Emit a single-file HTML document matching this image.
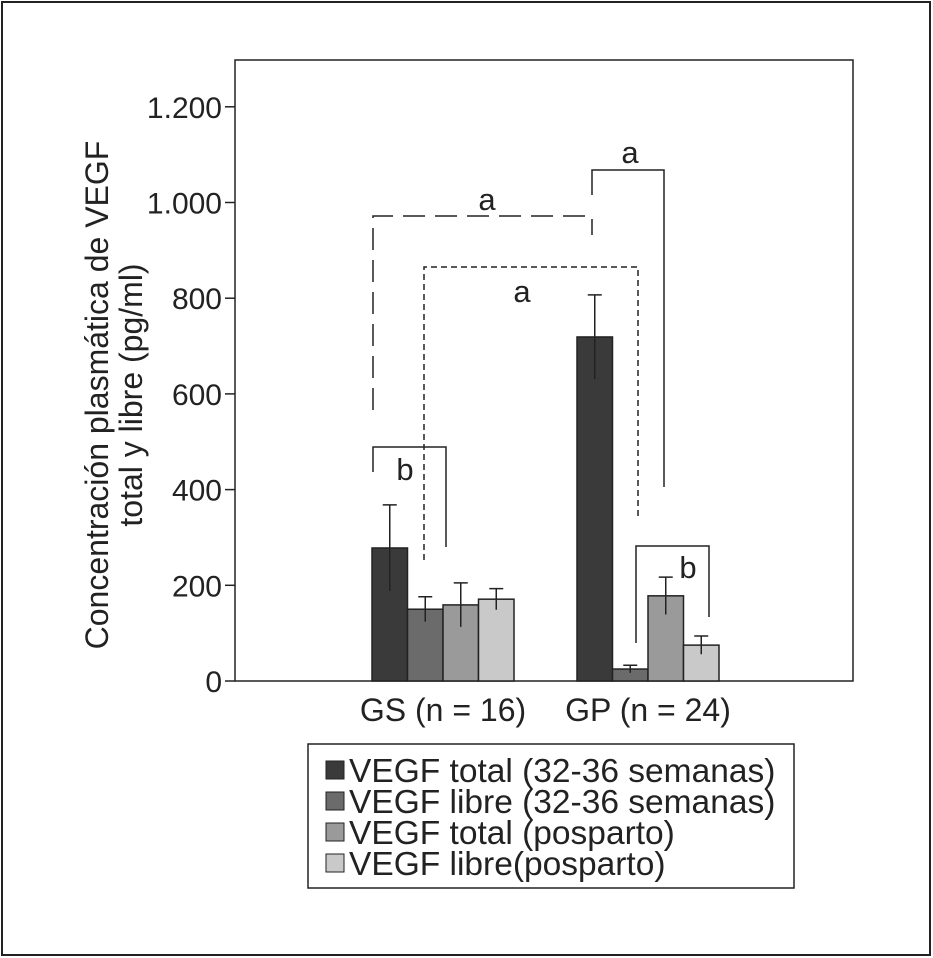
<!DOCTYPE html>
<html><head><meta charset="utf-8"><style>
body{margin:0;background:#fff;}
svg{display:block;font-family:"Liberation Sans",Arial,sans-serif;}
</style></head><body>
<svg width="933" height="958">
<rect x="2" y="2" width="928" height="953" fill="#fff" stroke="#222" stroke-width="2"/>
<rect x="235" y="60" width="618" height="621" fill="none" stroke="#222" stroke-width="1.5"/>
<g id="yaxis"></g>
<g id="bars"></g>
<g id="xlabels"></g>
<text transform="translate(108,395) rotate(-90)" text-anchor="middle" font-size="32" fill="#222"><tspan x="0" dy="0">Concentración plasmática de VEGF</tspan><tspan x="0" dy="34">total y libre (pg/ml)</tspan></text>
<g fill="none" stroke="#222" stroke-width="1.5">
<path d="M373,410 V216 H592 V235" stroke-dasharray="22,10"/>
<path d="M424,560 V267 H638 V517" stroke-dasharray="6,4"/>
<path d="M592,195 V170 H664 V487"/>
<path d="M373,472 V447 H446 V547"/>
<path d="M636,643 V546 H709 V617"/>
</g>
<g font-size="31" fill="#222" text-anchor="middle">
<text x="487" y="210">a</text>
<text x="522" y="302">a</text>
<text x="630" y="163">a</text>
<text x="405" y="480">b</text>
<text x="688" y="578">b</text>
</g>
<g>
<rect x="308" y="744" width="486" height="144" fill="#fff" stroke="#222" stroke-width="1.5"/>
<g id="legend" font-size="33.5" fill="#222"></g>
</g>
</svg>
<script>
const categories=["GS (n = 16)","GP (n = 24)"];
const seriesNames=["VEGF total (32-36 semanas)","VEGF libre (32-36 semanas)","VEGF total (posparto)","VEGF libre(posparto)"];
const totalPreg=[278,719];
const freePreg=[150,25];
const totalPost=[159,178];
const freePost=[171,75];
const errTotalPreg=[90,88];
const errFreePreg=[26,8];
const errTotalPost=[46,39];
const errFreePost=[22,19];
const yTicks=[0,200,400,600,800,1000,1200];
const yTickLabels=["0","200","400","600","800","1.000","1.200"];
const colors=["#3a3a3a","#6b6b6b","#9a9a9a","#c9c9c9"];
const NS="http://www.w3.org/2000/svg";
const y=v=>681-v*0.4785;
const groupX=[372,577], bw=35.5;
const x=(g,s)=>groupX[g]+s*bw;
function mk(t,a,p){const e=document.createElementNS(NS,t);for(const k in a)e.setAttribute(k,a[k]);p.appendChild(e);return e;}
const ya=document.getElementById('yaxis');
yTicks.forEach((v,i)=>{
 const l=mk('line',{x1:225,x2:235,y1:y(v),y2:y(v),stroke:'#222','stroke-width':1.5},ya);
 
 
 const t=mk('text',{x:222,y:y(v)+11,'text-anchor':'end','font-size':30,fill:'#222'},ya);
 t.textContent=yTickLabels[i];
 
 
});
const series=[totalPreg,freePreg,totalPost,freePost];
const errs=[errTotalPreg,errFreePreg,errTotalPost,errFreePost];
const bg=document.getElementById('bars');
categories.forEach((c,g)=>{
 series.forEach((s,i)=>{
  const r=mk('rect',{x:x(g,i),y:y(s[g]),width:bw,height:681-y(s[g]),fill:colors[i],stroke:'#222','stroke-width':1.5},bg);
  
  
  const cx=x(g,i)+bw/2, top=y(s[g]+errs[i][g]), bot=y(Math.max(0,s[g]-errs[i][g]));
  const e=mk('path',{d:`M${cx},${bot} V${top} M${cx-7},${top} H${cx+7}`,stroke:'#222','stroke-width':1.5,fill:'none'},bg);
  
  
 });
 const t=mk('text',{x:groupX[g]+2*bw,y:721,'text-anchor':'middle','font-size':32,fill:'#222'},document.getElementById('xlabels'));
 t.textContent=c;
 
 
});
const lg=document.getElementById('legend');
seriesNames.forEach((n,i)=>{
 const cy=770+i*31;
 const r=mk('rect',{x:326,y:cy-9,width:18,height:18,fill:colors[i],stroke:'#222','stroke-width':1},lg);
 
 
 const t=mk('text',{x:349,y:cy+12},lg);
 t.textContent=n;
 
 
});
</script>
</body></html>
